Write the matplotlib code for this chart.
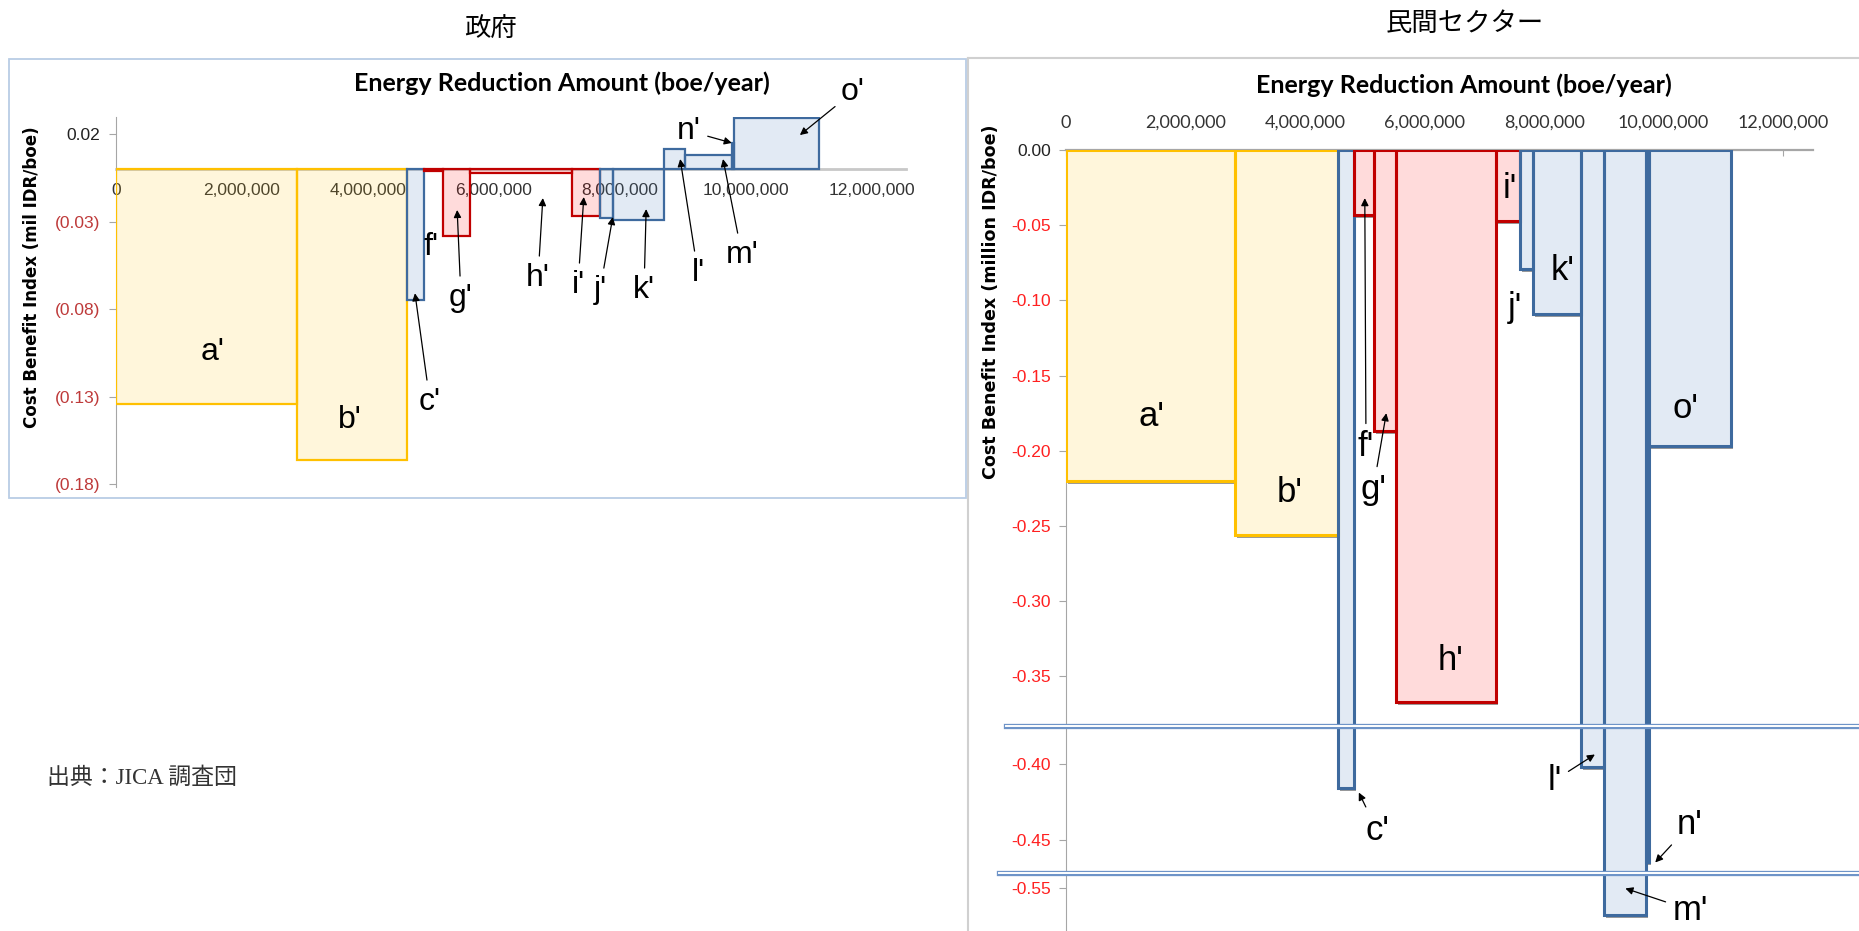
import numpy as np
import matplotlib
matplotlib.use('Agg')
import matplotlib.pyplot as plt
import matplotlib.transforms as mtransforms
from matplotlib.patches import Rectangle
from matplotlib.lines import Line2D
from matplotlib.ticker import FixedLocator, FixedFormatter

W, H = 1859, 931

measures = ["a'", "b'", "c'", "f'", "g'", "h'", "i'", "j'", "k'", "l'", "m'", "n'", "o'"]
groups = ['y', 'y', 'b', 'r', 'r', 'r', 'r', 'b', 'b', 'b', 'b', 'b', 'b']

# government: energy reduction (boe/year) and cost benefit index (mil IDR/boe)
gov_amount = [2.88e6, 1.75e6, 0.27e6, 0.29e6, 0.44e6, 1.61e6, 0.44e6, 0.22e6,
              0.80e6, 0.34e6, 0.74e6, 0.03e6, 1.36e6]
gov_index = [-0.134, -0.166, -0.075, -0.001, -0.038, -0.0025, -0.027, -0.028,
             -0.029, 0.0114, 0.008, 0.015, 0.029]

# private sector
pri_amount = [2.82e6, 1.73e6, 0.27e6, 0.34e6, 0.36e6, 1.68e6, 0.40e6, 0.22e6,
              0.80e6, 0.39e6, 0.69e6, 0.05e6, 1.38e6]
pri_index = [-0.220, -0.256, -0.416, -0.043, -0.187, -0.367, -0.047, -0.079,
             -0.109, -0.402, -0.568, -0.465, -0.197]

x_ticks = [0, 2e6, 4e6, 6e6, 8e6, 10e6, 12e6]
gov_yticks = [0.02, -0.03, -0.08, -0.13, -0.18]
gov_ylabels = ['0.02', '(0.03)', '(0.08)', '(0.13)', '(0.18)']
pri_yticks = [0.0, -0.05, -0.10, -0.15, -0.20, -0.25, -0.30, -0.35, -0.40, -0.45, -0.55]
pri_ylabels = ['%.2f' % v for v in pri_yticks]

# label placement: (text position in figure px from top-left, arrow tip in data or None)
gov_notes = {
    "a'": ((213, 352), None), "b'": ((350, 420), None),
    "c'": ((430, 402), (4.75e6, -0.071)), "f'": ((431, 247), None),
    "g'": ((461, 298), (5.42e6, -0.0234)), "h'": ((538, 278), (6.78e6, -0.0166)),
    "i'": ((578, 285), (7.43e6, -0.016)), "j'": ((600, 290), (7.89e6, -0.0274)),
    "k'": ((644, 290), (8.42e6, -0.0229)), "l'": ((698, 273), (8.96e6, 0.0057)),
    "m'": ((742, 255), (9.64e6, 0.0057)), "n'": ((689, 131), (9.78e6, 0.0149)),
    "o'": ((853, 92), (10.86e6, 0.0194)),
}
pri_notes = {
    "a'": ((1151, 417), None), "b'": ((1290, 493), None),
    "c'": ((1377, 830), (4.90e6, -0.4187)), "f'": ((1366, 447), (5.0e6, -0.032)),
    "g'": ((1373, 490), (5.36e6, -0.175)), "h'": ((1450, 660), None),
    "i'": ((1510, 188), None), "j'": ((1515, 308), None), "k'": ((1563, 270), None),
    "l'": ((1555, 780), (8.85e6, -0.3934)), "m'": ((1690, 910), (9.36e6, -0.5501)),
    "n'": ((1690, 825), (9.86e6, -0.4652)), "o'": ((1685, 408), None),
}

edge = {'y': '#FFC000', 'b': '#3E6A9E', 'r': '#C00000'}
face = {'y': (1.0, 0.753, 0.0, 0.14), 'b': (0.31, 0.506, 0.741, 0.16), 'r': (1.0, 0.0, 0.0, 0.14)}

# broken y axis of the private sector chart (pixels below zero)
brk_d = [-1.0, 0.0, 0.3827, 0.3828, 0.4721, 0.5400, 2.0]
brk_p = [-1505.0, 0.0, 576.0, 589.0, 723.4, 723.8, 723.8 + 1.46 * 1505]


def fwd(y):
    return -np.interp(-np.asarray(y, dtype=float), brk_d, brk_p) / 1505.0


def inv(q):
    return -np.interp(-np.asarray(q, dtype=float) * 1505.0, brk_p, brk_d)


def fig_px(x, y):
    return x / W, 1 - y / H


def draw_bars(ax, amounts, values, lw, z, shadow=False):
    starts = np.concatenate([[0], np.cumsum(amounts)[:-1]])
    if shadow:
        # excel style drop shadow: grey copy shifted, hidden under a white base
        sh = mtransforms.offset_copy(ax.transData, fig=ax.figure, x=2, y=-3, units='dots')
        ax.bar(starts, values, width=amounts, align='edge', color='#9A9A9A',
               linewidth=0, transform=sh, zorder=z - 0.2)
        ax.bar(starts, values, width=amounts, align='edge', color='white',
               linewidth=0, zorder=z - 0.1)
    for s, w, v, g in zip(starts, amounts, values, groups):
        ax.bar(s, v, width=w, align='edge', facecolor=face[g], edgecolor=edge[g],
               linewidth=lw, zorder=z)


def add_notes(ax, notes, size):
    for name, (pos, tip) in notes.items():
        tp = (pos[0], H - pos[1])
        if tip is None:
            ax.annotate(name, xy=tp, xycoords='figure pixels', ha='center', va='center',
                        fontsize=size, family='Liberation Sans', zorder=6)
        else:
            ax.annotate(name, xy=tip, xycoords='data', xytext=tp, textcoords='figure pixels',
                        ha='center', va='center', fontsize=size, family='Liberation Sans',
                        zorder=6, annotation_clip=False,
                        arrowprops=dict(arrowstyle='-|>', color='black', lw=0.9,
                                        mutation_scale=11, shrinkA=3, shrinkB=0))


fig = plt.figure(figsize=(W / 100, H / 100), dpi=100)

# ---------------- government chart ----------------
ax1 = fig.add_axes([115.7 / W, 1 - 487.5 / H, 790.0 / W, (487.5 - 116.7) / H])
draw_bars(ax1, gov_amount, gov_index, 1.6, 3)
ax1.set_xlim(0, 790.0 / 63.0 * 1e6)
ax1.set_ylim(-0.182, 0.0299)
for s in ['top', 'right']:
    ax1.spines[s].set_visible(False)
ax1.spines['bottom'].set_position(('data', 0))
ax1.spines['bottom'].set_color('#C8C8C8')
ax1.spines['bottom'].set_linewidth(2)
ax1.spines['left'].set_color('#A6A6A6')
ax1.xaxis.set_major_locator(FixedLocator(x_ticks))
ax1.xaxis.set_major_formatter(FixedFormatter(['{:,.0f}'.format(v) for v in x_ticks]))
ax1.tick_params(axis='x', length=0, pad=10, labelsize=12.5, labelcolor='#333333')
ax1.yaxis.set_major_locator(FixedLocator(gov_yticks))
ax1.yaxis.set_major_formatter(FixedFormatter(gov_ylabels))
ax1.tick_params(axis='y', length=5, color='#A6A6A6', pad=6, labelsize=12.5)
for lab, v in zip(ax1.get_yticklabels(), gov_yticks):
    lab.set_color('#222222' if v > 0 else '#BE3A3A')
for lab in ax1.get_xticklabels() + ax1.get_yticklabels():
    lab.set_family('Liberation Sans')
add_notes(ax1, gov_notes, 23)

# ---------------- private sector chart ----------------
ax2 = fig.add_axes([1066.0 / W, 0, 747.0 / W, (H - 150.0) / H])
ax2.set_yscale('function', functions=(fwd, inv))
draw_bars(ax2, pri_amount, pri_index, 2.2, 3, shadow=True)
ax2.set_xlim(0, 12.5e6)
ax2.set_ylim(-0.5784, 0)
for s in ['bottom', 'right']:
    ax2.spines[s].set_visible(False)
ax2.spines['top'].set_color('#A6A6A6')
ax2.spines['top'].set_linewidth(1.6)
ax2.spines['left'].set_color('#A6A6A6')
ax2.xaxis.tick_top()
ax2.xaxis.set_major_locator(FixedLocator(x_ticks))
ax2.xaxis.set_major_formatter(FixedFormatter(['{:,.0f}'.format(v) for v in x_ticks]))
ax2.tick_params(axis='x', direction='in', length=4, color='#A6A6A6', pad=14,
                labelsize=13, labelcolor='#333333')
ax2.yaxis.set_major_locator(FixedLocator(pri_yticks))
ax2.yaxis.set_major_formatter(FixedFormatter(pri_ylabels))
ax2.yaxis.set_minor_locator(FixedLocator([]))
ax2.tick_params(axis='y', length=5, color='#A6A6A6', pad=6, labelsize=12.5)
for lab, v in zip(ax2.get_yticklabels(), pri_yticks):
    lab.set_color('#222222' if v == 0 else '#FF2020')
    lab.set_family('Liberation Sans')
for lab in ax2.get_xticklabels():
    lab.set_family('Lato')
add_notes(ax2, pri_notes, 25)

# frames
fig.add_artist(Rectangle(fig_px(9, 498), 957 / W, 439 / H, transform=fig.transFigure,
                         fill=False, edgecolor='#B9CDE5', linewidth=1.3))
fig.add_artist(Line2D([968 / W, 1.0], [1 - 58 / H] * 2, transform=fig.transFigure,
                      color='#D0D0D0', linewidth=1.5))
fig.add_artist(Line2D([968 / W] * 2, [1 - 58 / H, 0], transform=fig.transFigure,
                      color='#D0D0D0', linewidth=1.5))

# axis break marks
for x0, yb in [(1006, 725.5), (999, 873)]:
    fig.add_artist(Line2D([x0 / W, 1.0], [1 - yb / H] * 2, transform=fig.transFigure,
                          color='#6E94C8', linewidth=3.8, zorder=10))
    fig.add_artist(Line2D([x0 / W, 1.0], [1 - yb / H] * 2, transform=fig.transFigure,
                          color='white', linewidth=1.4, zorder=11))

# titles and labels
title_font = dict(family='Lato', weight='bold', fontsize=18, ha='center', va='center')
fig.text(*fig_px(562, 83), 'Energy Reduction Amount (boe/year)', **title_font)
fig.text(*fig_px(1464, 85), 'Energy Reduction Amount (boe/year)', **title_font)
fig.text(*fig_px(32, 277), 'Cost Benefit Index (mil IDR/boe)', rotation=90,
         ha='center', va='center', fontsize=12, weight='bold', family='DejaVu Sans')
fig.text(*fig_px(991, 302), 'Cost Benefit Index (million IDR/boe)', rotation=90,
         ha='center', va='center', fontsize=12.6, weight='bold', family='DejaVu Sans')

jp = ['Noto Sans CJK JP', 'DejaVu Sans']
fig.text(*fig_px(490, 28), '政府', ha='center', va='center', fontsize=19, family=jp)
fig.text(*fig_px(1465, 23), '民間セクター', ha='center', va='center', fontsize=19, family=jp)
fig.text(*fig_px(47, 778), '出典：JICA 調査団', ha='left', va='center', fontsize=16.5,
         color='#333333', family=['Liberation Serif', 'Noto Sans CJK JP'])

fig.savefig('out.png', dpi=100)
